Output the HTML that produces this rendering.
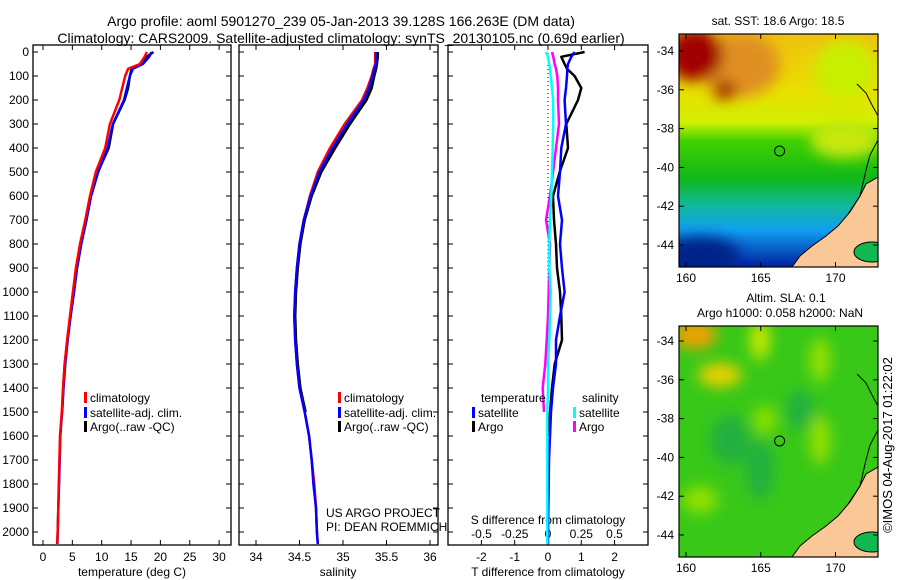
<!DOCTYPE html>
<html><head><meta charset="utf-8"><style>
body{margin:0;background:#fff}
svg{display:block;font-family:"Liberation Sans",sans-serif}
text{fill:#000}
</style></head><body>
<svg id="c" width="900" height="580" viewBox="0 0 900 580">
<defs>
<linearGradient id="sstg" x1="0" y1="0" x2="0" y2="1">
<stop offset="0" stop-color="#f0c010"/><stop offset="0.25" stop-color="#e8e000"/><stop offset="0.38" stop-color="#d0f000"/>
<stop offset="0.46" stop-color="#40d000"/><stop offset="0.62" stop-color="#10b818"/><stop offset="0.74" stop-color="#10b8a0"/>
<stop offset="0.84" stop-color="#10a0f0"/><stop offset="1" stop-color="#0020a0"/></linearGradient>
<filter id="bl"><feGaussianBlur stdDeviation="7"/></filter>
<clipPath id="cm1"><rect x="679" y="34" width="199" height="233"/></clipPath>
<clipPath id="cm2"><rect x="679" y="326" width="199" height="231"/></clipPath>
</defs>
<text x="341" y="26" font-size="14" text-anchor="middle">Argo profile: aoml 5901270_239 05-Jan-2013 39.128S 166.263E (DM data)</text>
<text x="341" y="43" font-size="14" text-anchor="middle">Climatology: CARS2009. Satellite-adjusted climatology: synTS_20130105.nc (0.69d earlier)</text>
<g id="axes"></g>
<g id="maps"></g>
<text transform="translate(892,445) rotate(-90)" font-size="13" text-anchor="middle">©IMOS 04-Aug-2017 01:22:02</text>
</svg>
<script>
const depths=[0,20,50,70,100,150,200,300,400,500,600,700,800,900,1000,1100,1200,1300,1400,1500,1600,1700,1800,1900,2000,2050];
const tClim=[17.7,17.3,16.5,14.5,14.0,13.5,13.0,11.4,10.6,9.0,8.0,7.2,6.3,5.6,5.1,4.6,4.1,3.7,3.4,3.2,2.9,2.8,2.7,2.6,2.5,2.4];
const tSat=[18.5,18.1,17.0,15.3,14.8,14.3,13.8,11.9,11.0,9.4,8.2,7.4,6.5,5.8,5.3,4.7,4.2,3.8,3.5,3.25,2.95,2.85,2.75,2.6,2.5,2.45];
const tArgo=[18.8,17.7,17.0,15.1,14.8,14.5,13.9,11.95,11.2,9.35,8.15,7.4,6.5,5.8,5.2,4.7,4.15,3.7,3.45,3.25];
const sClim=[35.37,35.37,35.37,35.35,35.33,35.28,35.22,35.02,34.85,34.71,34.62,34.55,34.5,34.47,34.45,34.44,34.45,34.47,34.5,34.56,34.61,34.64,34.67,34.69,34.7,34.71];
const sSat=[35.38,35.38,35.38,35.36,35.34,35.30,35.24,35.05,34.88,34.73,34.63,34.55,34.5,34.47,34.45,34.44,34.45,34.47,34.5,34.56,34.61,34.64,34.66,34.69,34.7,34.71];
const sArgo=[35.40,35.40,35.39,35.38,35.36,35.33,35.27,35.08,34.91,34.75,34.64,34.56,34.51,34.48,34.46,34.45,34.46,34.48,34.51,34.57];
const dTArgo=[1.1,0.4,0.5,0.57,0.8,1.0,0.9,0.55,0.6,0.35,0.15,0.18,0.24,0.27,0.36,0.4,0.42,0.2,0.12,0.06,0.02];
const dTSat=[0.8,0.7,0.6,0.58,0.57,0.54,0.5,0.54,0.4,0.36,0.3,0.42,0.36,0.42,0.5,0.36,0.24,0.24,0.15,0.09,0.06,0.03,0.02,0.01,0.0,0.0];
const dSArgo=[0.03,0.04,0.05,0.06,0.07,0.075,0.075,0.083,0.06,0.038,0.015,-0.015,0.015,0.01,0.005,0.0,-0.01,-0.02,-0.04,-0.03];
const dSSat=[-0.015,0.0,0.008,0.015,0.02,0.03,0.038,0.038,0.035,0.03,0.025,0.015,0.01,0.01,0.02,0.015,0.01,0.0,0.0,-0.005,-0.005,-0.005,-0.005,-0.005,-0.005,-0.005];
const depthTicks=[0,100,200,300,400,500,600,700,800,900,1000,1100,1200,1300,1400,1500,1600,1700,1800,1900,2000];
const tTicks=[0,5,10,15,20,25,30];
const sTicks=[34,34.5,35,35.5,36];
const dTTicks=[-2,-1,0,1,2];
const dSTicks=[-0.5,-0.25,0,0.25,0.5];
const dSTickLabels=["-0.5","-0.25","0","0.25","0.5"];

const NS="http://www.w3.org/2000/svg";
const G=document.getElementById('axes');
function mk(tag,at,parent){const e=document.createElementNS(NS,tag);for(const k in at)e.setAttribute(k,at[k]);(parent||G).appendChild(e);return e;}
const yD=d=>52+0.24*d;
const xT=v=>43+5.87*v;
const xS=v=>256+87*(v-34);
const xDT=v=>548+33.3*v;
const xDS=v=>548+133*v;
const TOP=45,BOT=545;
function frame(x0,x1,name){
  let r=mk('rect',{x:x0,y:TOP,width:x1-x0,height:BOT-TOP,fill:'none',stroke:'#000','stroke-width':1.3});
  
  
  depthTicks.forEach(d=>{mk('line',{x1:x0,x2:x0+5,y1:yD(d),y2:yD(d),stroke:'#000'});mk('line',{x1:x1-5,x2:x1,y1:yD(d),y2:yD(d),stroke:'#000'});});
}
function xticks(vals,fn,labels,y,name){
  vals.forEach((v,i)=>{const x=fn(v);mk('line',{x1:x,x2:x,y1:BOT,y2:BOT-5,stroke:'#000'});mk('line',{x1:x,x2:x,y1:TOP,y2:TOP+5,stroke:'#000'});
    const t=mk('text',{x:x,y:y,'font-size':12,'text-anchor':'middle'});t.textContent=labels[i];
    
    });
}
function line(xs,fn,color,name,w){
  const pts=xs.map((v,i)=>fn(v).toFixed(1)+','+yD(depths[i]).toFixed(1)).join(' ');
  const p=mk('polyline',{points:pts,fill:'none',stroke:color,'stroke-width':w||2.5,'stroke-linejoin':'round'});
  
  
}
function label(x,y,s,name,anchor,size){const t=mk('text',{x:x,y:y,'font-size':size||12,'text-anchor':anchor||'start'});t.textContent=s;
  
  return t;}
depthTicks.forEach(d=>{const t=label(29,yD(d)+4,String(d),'depth-tick-label','end');});
frame(33,231,'temperature-panel');
frame(239,438,'salinity-panel');
frame(448,648,'difference-panel');
xticks(tTicks,xT,tTicks.map(String),561,'temperature-tick-label');
xticks(sTicks,xS,sTicks.map(String),561,'salinity-tick-label');
xticks(dTTicks,xDT,dTTicks.map(String),561,'t-diff-tick-label');
dSTicks.forEach((v,i)=>{const t=label(xDS(v),538,dSTickLabels[i],'s-diff-tick-label','middle');});
label(132,576,'temperature (deg C)','x-axis-title-temperature','middle');
label(338,576,'salinity','x-axis-title-salinity','middle');
label(548,576,'T difference from climatology','x-axis-title-t-diff','middle');
label(548,524,'S difference from climatology','x-axis-title-s-diff','middle');
mk('line',{x1:xDT(0),x2:xDT(0),y1:TOP,y2:BOT,stroke:'#000','stroke-dasharray':'1,3'});
line(tArgo,xT,'#000','temp-argo-line');
line(tSat,xT,'#00f','temp-satellite-line');
line(tClim,xT,'#f00','temp-climatology-line');
line(sArgo,xS,'#000','sal-argo-line');
line(sClim,xS,'#f00','sal-climatology-line');
line(sSat,xS,'#00f','sal-satellite-line');
line(dTArgo,xDT,'#000','t-diff-argo-line');
line(dTSat,xDT,'#00f','t-diff-satellite-line');
line(dSArgo,xDS,'#f0f','s-diff-argo-line');
line(dSSat,xDS,'#0ff','s-diff-satellite-line');
function legend(x,y,color,s,name){mk('rect',{x:x,y:y-10,width:3,height:11,fill:color});label(x+6,y,s,name);}
legend(84,402,'#f00','climatology','legend-climatology');
legend(84,417,'#00f','satellite-adj. clim.','legend-satellite-adj');
legend(84,431,'#000','Argo(..raw -QC)','legend-argo');
legend(338,402,'#f00','climatology','legend-climatology-sal');
legend(338,417,'#00f','satellite-adj. clim.','legend-satellite-adj-sal');
legend(338,431,'#000','Argo(..raw -QC)','legend-argo-sal');
label(481,402,'temperature','legend-temperature-header');
label(582,402,'salinity','legend-salinity-header');
legend(472,417,'#00f','satellite','legend-t-satellite');
legend(472,431,'#000','Argo','legend-t-argo');
legend(573,417,'#0ff','satellite','legend-s-satellite');
legend(573,431,'#f0f','Argo','legend-s-argo');
label(326,517,'US ARGO PROJECT','project-credit');
label(326,531,'PI: DEAN ROEMMICH','pi-credit');

const M=document.getElementById('maps');
const lonX=l=>686+14.95*(l-160);
const latTicks=[-34,-36,-38,-40,-42,-44];
const lonTicks=[160,165,170];
function mapFrame(clip,kind){
  const g=mk('g',{'clip-path':'url(#'+clip+')'},M);
  
  
  return g;
}
function mapAxes(y0,h,latY,name){
  const r=mk('rect',{x:679,y:y0,width:199,height:h,fill:'none',stroke:'#000','stroke-width':1.2},M);
  
  
  latTicks.forEach(l=>{const y=latY(l);mk('line',{x1:679,x2:684,y1:y,y2:y,stroke:'#000'},M);mk('line',{x1:873,x2:878,y1:y,y2:y,stroke:'#000'},M);
    const t=mk('text',{x:674,y:y+4,'font-size':12,'text-anchor':'end'},M);t.textContent=String(l);
    
    });
  lonTicks.forEach(l=>{const x=lonX(l);mk('line',{x1:x,x2:x,y1:y0,y2:y0+5,stroke:'#000'},M);mk('line',{x1:x,x2:x,y1:y0+h,y2:y0+h-5,stroke:'#000'},M);
    const t=mk('text',{x:x,y:y0+h+15,'font-size':12,'text-anchor':'middle'},M);t.textContent=String(l);
    
    });
}
function land(g,dy){
  const p=[[878,177],[866,184],[860,196],[850,212],[838,226],[826,236],[812,246],[800,256],[792,267],[878,267]].map(a=>a[0]+','+(a[1]+dy)).join(' ');
  mk('polygon',{points:p,fill:'#f9c896',stroke:'#000','stroke-width':1},g);
  mk('polyline',{points:[[857,84],[866,93],[872,105],[878,116]].map(a=>a[0]+','+(a[1]+dy)).join(' '),fill:'none',stroke:'#000','stroke-width':1},g);
  mk('polyline',{points:[[878,140],[870,155],[866,170],[860,196],[848,214]].map(a=>a[0]+','+(a[1]+dy)).join(' '),fill:'none',stroke:'#000','stroke-width':1},g);
  mk('ellipse',{cx:872,cy:252+dy,rx:18,ry:10,fill:'#10b850',stroke:'#000','stroke-width':1},g);
}
const g1=mapFrame('cm1','sst');
mk('rect',{x:679,y:34,width:199,height:233,fill:'url(#sstg)'},g1);
const sb=mk('g',{filter:'url(#bl)'},g1);
mk('ellipse',{cx:740,cy:65,rx:40,ry:32,fill:'#e09020'},sb);
mk('ellipse',{cx:695,cy:55,rx:28,ry:26,fill:'#a00000'},sb);
mk('ellipse',{cx:725,cy:90,rx:12,ry:9,fill:'#a01000'},sb);
mk('ellipse',{cx:845,cy:70,rx:30,ry:30,fill:'#c8f000'},sb);
mk('ellipse',{cx:845,cy:140,rx:35,ry:18,fill:'#c8e808'},sb);
mk('ellipse',{cx:700,cy:255,rx:40,ry:18,fill:'#002088'},sb);
land(g1,0);
mk('circle',{cx:lonX(166.26),cy:151,r:5,fill:'none',stroke:'#000'},g1);
mapAxes(34,233,l=>51+19.4*(-34-l),'sst');
let t1=mk('text',{x:778,y:25,'font-size':12,'text-anchor':'middle'},M);t1.textContent='sat. SST: 18.6 Argo: 18.5';


const g2=mapFrame('cm2','sla');
mk('rect',{x:679,y:326,width:199,height:231,fill:'#38c818'},g2);
const sb2=mk('g',{filter:'url(#bl)'},g2);
[[695,335,22,14,'#f0a000'],[720,375,22,12,'#e8d000'],[760,340,10,20,'#c8e800'],[820,360,10,22,'#98e000'],[820,440,10,25,'#98e000'],[700,500,18,14,'#90e000'],[760,470,14,30,'#20b040'],[730,440,20,25,'#20b040'],[800,410,14,20,'#20b040'],[765,420,12,14,'#88e000']].forEach(a=>mk('ellipse',{cx:a[0],cy:a[1],rx:a[2],ry:a[3],fill:a[4]},sb2));
land(g2,290);
mk('circle',{cx:lonX(166.26),cy:441,r:5,fill:'none',stroke:'#000'},g2);
mapAxes(326,231,l=>341+19.4*(-34-l),'sla');
let t2=mk('text',{x:786,y:302,'font-size':12,'text-anchor':'middle'},M);t2.textContent='Altim. SLA: 0.1';


let t3=mk('text',{x:780,y:317,'font-size':12,'text-anchor':'middle'},M);t3.textContent='Argo h1000: 0.058 h2000: NaN';


</script>
</body></html>
